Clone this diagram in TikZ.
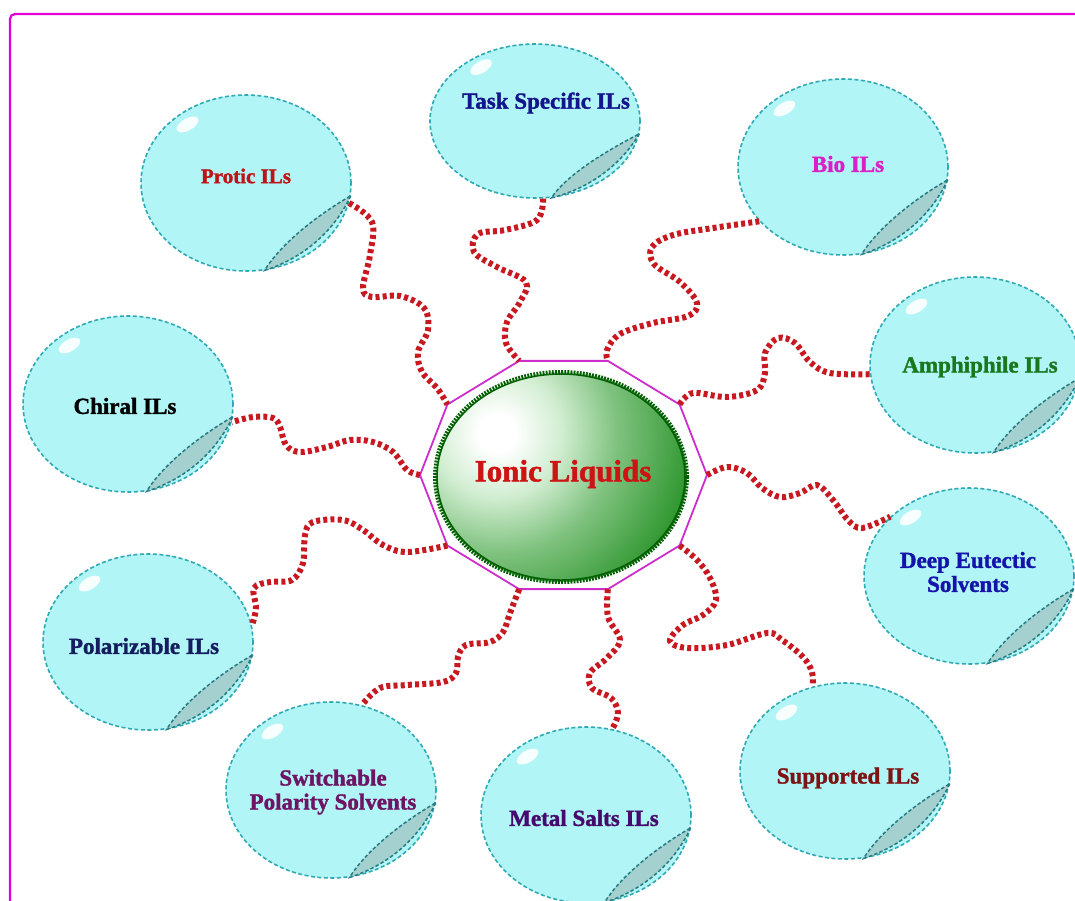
\documentclass[tikz,border=0pt]{standalone}
\usepackage{fontspec}
\setmainfont{Liberation Serif}[BoldFeatures={FakeBold=1.5}]
\usepackage{tikz}
\usetikzlibrary{calc,shapes.geometric}

\definecolor{bubblefill}{RGB}{178,245,246}
\definecolor{bubbleedge}{RGB}{45,170,180}
\definecolor{curlfill}{RGB}{165,208,208}
\definecolor{curledge}{RGB}{35,125,130}
\definecolor{linkred}{RGB}{200,24,32}
\definecolor{framemag}{RGB}{225,0,220}
\definecolor{decamag}{RGB}{205,45,205}
\definecolor{coreedge}{RGB}{0,95,0}
\definecolor{txtprotic}{RGB}{190,20,25}
\definecolor{txttask}{RGB}{20,20,140}
\definecolor{txtbio}{RGB}{220,30,200}
\definecolor{txtamph}{RGB}{25,120,30}
\definecolor{txtdeep}{RGB}{20,20,170}
\definecolor{txtpolar}{RGB}{20,30,95}
\definecolor{txtswitch}{RGB}{110,20,100}
\definecolor{txtmetal}{RGB}{70,10,110}
\definecolor{txtsupp}{RGB}{125,20,20}
\definecolor{txtcore}{RGB}{205,20,20}

\pgfdeclareradialshading{coreball}{\pgfpoint{0bp}{0bp}}{rgb(0bp)=(1,1,1); rgb(2bp)=(1,1,1); rgb(7bp)=(0.82,0.93,0.82); rgb(13bp)=(0.5,0.76,0.5); rgb(21bp)=(0.2,0.6,0.2); rgb(30bp)=(0.05,0.5,0.05); rgb(50bp)=(0,0.42,0)}

\begin{document}
\begin{tikzpicture}[x=1pt,y=-1pt]

	\tikzstyle{bubble} = [ellipse, draw=bubbleedge, fill=bubblefill, line width=1.6pt,
		dash pattern=on 4pt off 2.5pt, minimum width=210pt, minimum height=176pt, inner sep=0pt]
	\tikzstyle{curl} = [draw=curledge, fill=curlfill, line width=1.5pt, dash pattern=on 3.5pt off 2.2pt]
	\tikzstyle{tag} = [font=\bfseries\fontsize{23}{24}\selectfont, align=center, inner sep=0pt]
	\tikzstyle{link} = [draw=linkred, line width=6pt, dash pattern=on 4pt off 3.2pt]
	\tikzstyle{core} = [ellipse, minimum width=252pt, minimum height=210pt,
		draw=coreedge, line width=4pt, dash pattern=on 1.8pt off 1.3pt]

    \useasboundingbox (0,0) rectangle (1075,900);
    \fill[white] (0,0) rectangle (1075,900);
    \clip (0,0) rectangle (1075,900);
    \draw[framemag, line width=2.2pt, rounded corners=5pt] (10,14) rectangle (1095,920);

    % Decagon and core
    \foreach \i in {0,...,9}
        \coordinate (v\i) at ({563.5+143.5*cos(36*\i)},{475-120*sin(36*\i)});
    \draw[decamag, line width=1.8pt] (v0) -- (v1) -- (v2) -- (v3) -- (v4) -- (v5) -- (v6) -- (v7) -- (v8) -- (v9) -- cycle;
    \begin{scope}
        \clip (561,477) ellipse (126 and 105);
        \shade[shading=coreball] (497,433) circle (230);
    \end{scope}
    \node [core] at (561,477) (core) {};
    \draw [coreedge, line width=1.5pt] (core.center) ellipse (124 and 103);
    \node [tag, font=\bfseries\fontsize{31}{33}\selectfont, text=txtcore] at (563,474) (core_text) {Ionic Liquids};

    % Place bubbles
    \node [bubble] at (246,183) (protic) {};
    \node [bubble, minimum height=154pt] at (535,121) (task) {};
    \node [bubble] at (843,167) (bio) {};
    \node [bubble] at (975,365) (amph) {};
    \node [bubble] at (969,576) (deep) {};
    \node [bubble] at (845,771) (supp) {};
    \node [bubble] at (586,815) (metal) {};
    \node [bubble] at (331,790) (switch) {};
    \node [bubble] at (148,642) (polar) {};
    \node [bubble] at (128,404) (chiral) {};

    \foreach \b in {protic,task,bio,amph,deep,supp,metal,switch,polar,chiral} {
        \fill[white, opacity=0.9, rotate around={30:($(\b.center)!0.86!(\b.135)$)}]
            ($(\b.center)!0.86!(\b.135)$) ellipse (12 and 6);
        \filldraw[curl] (\b.-7) .. controls (\b.-30) and (\b.-54) .. (\b.-78)
            .. controls ($(\b.center)!0.76!(\b.-60)$) and ($(\b.center)!0.76!(\b.-25)$) .. cycle;
    }

    \node [tag, font=\bfseries\fontsize{21}{22}\selectfont, text=txtprotic] at (246,176) (protic_text) {Protic ILs};
    \node [tag, text=txttask] at (546,103) (task_text) {Task Specific ILs};
    \node [tag, text=txtbio] at (848,164) (bio_text) {Bio ILs};
    \node [tag, text=txtamph] at (980,367) (amph_text) {Amphiphile ILs};
    \node [tag, text=txtdeep] at (968,572) (deep_text) {Deep Eutectic\\Solvents};
    \node [tag, text=txtsupp] at (848,778) (supp_text) {Supported ILs};
    \node [tag, text=txtmetal] at (584,818) (metal_text) {Metal Salts ILs};
    \node [tag, text=txtswitch] at (333,792) (switch_text) {Switchable\\Polarity Solvents};
    \node [tag, text=txtpolar] at (144,646) (polar_text) {Polarizable ILs};
    \node [tag, text=black] at (125,406) (chiral_text) {Chiral ILs};

    % Draw edges
    \draw [link] plot[smooth, tension=0.6] coordinates {(protic.-11) (372,222) (370,255) (363,288) (372,297) (400,296) (424,308) (428,330) (418,352) (422,372) (437,388) (v4)};
    \draw [link] plot[smooth, tension=0.6] coordinates {(task.-84) (537,220) (505,230) (478,234) (474,252) (497,267) (526,282) (520,302) (507,322) (506,343) (v3)};
    \draw [link] plot[smooth, tension=0.6] coordinates {(bio.213) (713,228) (673,235) (652,247) (654,264) (680,282) (697,303) (688,316) (653,323) (620,334) (607,350) (v2)};
    \draw [link] plot[smooth, tension=0.6] coordinates {(v1) (693,393) (727,397) (757,390) (765,373) (765,353) (778,338) (795,343) (810,362) (830,373) (amph.185)};
    \draw [link] plot[smooth, tension=0.6] coordinates {(v0) (727,467) (747,473) (762,488) (780,497) (800,493) (817,485) (833,500) (848,520) (862,528) (deep.143)};
    \draw [link] plot[smooth, tension=0.6] coordinates {(v9) (697,560) (710,578) (716,600) (703,615) (683,625) (670,641) (688,648) (727,645) (767,633) (782,640) (803,657) (812,672) (supp.111)};
    \draw [link] plot[smooth, tension=0.6] coordinates {(v8) (608,617) (620,640) (607,658) (590,673) (592,688) (611,698) (618,713) (metal.73)};
    \draw [link] plot[smooth, tension=0.6] coordinates {(v7) (510,613) (503,632) (490,642) (466,645) (458,657) (456,673) (443,682) (407,685) (380,688) (switch.70)};
    \draw [link] plot[smooth, tension=0.6] coordinates {(v6) (407,552) (383,545) (363,530) (343,520) (313,522) (305,535) (303,563) (292,580) (270,582) (254,588) (256,608) (polar.9)};
    \draw [link] plot[smooth, tension=0.6] coordinates {(v5) (407,470) (393,452) (373,442) (350,440) (327,447) (300,452) (286,445) (280,427) (273,418) (253,417) (chiral.-10)};
\end{tikzpicture}
\end{document}
